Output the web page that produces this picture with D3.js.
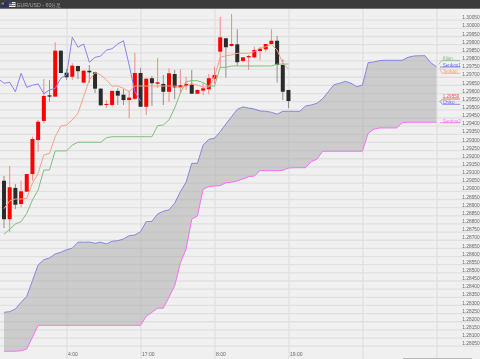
<!DOCTYPE html>
<html><head><meta charset="utf-8">
<script src="https://cdn.jsdelivr.net/npm/d3@7/dist/d3.min.js"></script>
<style>html,body{margin:0;padding:0;background:#f0f0f0;overflow:hidden}svg{display:block;filter:blur(0.3px)}text{font-family:"Liberation Sans",Arial,sans-serif}</style>
</head><body><svg id="c" width="480" height="359"></svg>
<script>
// Candles, index 0..50
const opens=[1.29062,1.28826,1.29018,1.28919,1.28995,1.29103,1.29312,1.29429,1.29586,1.29578,1.29860,1.29725,1.29700,1.29766,1.29664,1.29737,1.29727,1.29627,1.29527,1.29527,1.29613,1.29590,1.29557,1.29565,1.29723,1.29516,1.29691,1.29657,1.29656,1.29608,1.29717,1.29635,1.29643,1.29656,1.29596,1.29615,1.29623,1.29688,1.29854,1.29936,1.29889,1.29899,1.29797,1.29819,1.29819,1.29858,1.29868,1.29901,1.29921,1.29772,1.29619];
const highs=[1.29091,1.29153,1.29042,1.29062,1.29103,1.29332,1.29435,1.29686,1.29680,1.29911,1.29860,1.29748,1.29783,1.29768,1.29741,1.29772,1.29731,1.29629,1.29557,1.29615,1.29629,1.29625,1.29615,1.29846,1.29754,1.29692,1.29705,1.29815,1.29711,1.29752,1.29741,1.29746,1.29700,1.29741,1.29623,1.29660,1.29717,1.29762,1.30068,1.29938,1.30085,1.29991,1.29819,1.29834,1.29884,1.29884,1.29899,1.29991,1.29950,1.29807,1.29619];
const lows=[1.28772,1.28748,1.28889,1.28899,1.28995,1.29062,1.29240,1.29414,1.29547,1.29578,1.29720,1.29680,1.29680,1.29686,1.29664,1.29664,1.29600,1.29521,1.29508,1.29516,1.29527,1.29527,1.29445,1.29557,1.29515,1.29465,1.29521,1.29631,1.29527,1.29547,1.29562,1.29599,1.29619,1.29594,1.29594,1.29588,1.29592,1.29656,1.29758,1.29694,1.29884,1.29768,1.29789,1.29741,1.29813,1.29803,1.29854,1.29899,1.29664,1.29557,1.29507];
const closes=[1.28826,1.29022,1.28915,1.28997,1.29103,1.29318,1.29424,1.29582,1.29578,1.29860,1.29723,1.29697,1.29768,1.29734,1.29737,1.29727,1.29627,1.29525,1.29533,1.29613,1.29584,1.29557,1.29572,1.29723,1.29516,1.29688,1.29660,1.29666,1.29608,1.29721,1.29635,1.29648,1.29656,1.29596,1.29619,1.29629,1.29691,1.29711,1.29942,1.29881,1.29901,1.29789,1.29819,1.29827,1.29864,1.29872,1.29901,1.29921,1.29772,1.29608,1.29551];
// Indicators
const tenkan=[1.28891,1.28938,1.28950,1.28950,1.28954,1.29046,1.29108,1.29220,1.29230,1.29332,1.29398,1.29404,1.29435,1.29476,1.29578,1.29680,1.29725,1.29711,1.29680,1.29643,1.29643,1.29629,1.29608,1.29643,1.29643,1.29643,1.29643,1.29643,1.29643,1.29643,1.29643,1.29635,1.29643,1.29654,1.29649,1.29637,1.29637,1.29700,1.29819,1.29829,1.29834,1.29844,1.29844,1.29844,1.29854,1.29875,1.29884,1.29899,1.29864,1.29783,1.29748];
const kijun=[1.28734,1.28764,1.28797,1.28811,1.28862,1.28944,1.29005,1.29128,1.29128,1.29245,1.29245,1.29245,1.29281,1.29298,1.29298,1.29298,1.29298,1.29298,1.29326,1.29332,1.29332,1.29332,1.29332,1.29332,1.29332,1.29332,1.29332,1.29400,1.29404,1.29435,1.29508,1.29599,1.29670,1.29676,1.29676,1.29664,1.29643,1.29643,1.29758,1.29758,1.29766,1.29766,1.29766,1.29766,1.29766,1.29766,1.29766,1.29766,1.29777,1.29778,1.29778];
// Chikou runs from index -1 to 24
const chikouStart=-1;
const chikou=[1.29688,1.29660,1.29666,1.29608,1.29721,1.29635,1.29648,1.29656,1.29596,1.29619,1.29629,1.29691,1.29711,1.29942,1.29881,1.29901,1.29789,1.29819,1.29827,1.29864,1.29872,1.29901,1.29921,1.29772,1.29608,1.29551];
// Senkou spans, index 0..76
const senkou1=[1.28255,1.28259,1.28275,1.28316,1.28353,1.28449,1.28545,1.28578,1.28588,1.28613,1.28623,1.28639,1.28648,1.28685,1.28685,1.28686,1.28678,1.28685,1.28674,1.28691,1.28694,1.28705,1.28725,1.28729,1.28750,1.28811,1.28813,1.28858,1.28875,1.28883,1.28924,1.28995,1.29053,1.29169,1.29169,1.29281,1.29316,1.29323,1.29363,1.29410,1.29455,1.29500,1.29515,1.29508,1.29502,1.29490,1.29488,1.29482,1.29470,1.29488,1.29488,1.29488,1.29488,1.29521,1.29527,1.29537,1.29565,1.29608,1.29651,1.29660,1.29672,1.29660,1.29639,1.29649,1.29786,1.29791,1.29799,1.29801,1.29801,1.29801,1.29801,1.29819,1.29827,1.29829,1.29829,1.29786,1.29762];
const senkou2=[1.28016,1.28016,1.28016,1.28019,1.28030,1.28102,1.28175,1.28175,1.28175,1.28175,1.28175,1.28175,1.28175,1.28175,1.28175,1.28175,1.28175,1.28175,1.28175,1.28175,1.28175,1.28175,1.28175,1.28175,1.28175,1.28230,1.28255,1.28280,1.28280,1.28347,1.28418,1.28557,1.28643,1.28826,1.28846,1.29010,1.29026,1.29030,1.29032,1.29050,1.29053,1.29061,1.29073,1.29087,1.29091,1.29124,1.29124,1.29124,1.29124,1.29126,1.29140,1.29142,1.29142,1.29142,1.29179,1.29194,1.29243,1.29243,1.29243,1.29243,1.29243,1.29243,1.29243,1.29243,1.29353,1.29378,1.29386,1.29386,1.29386,1.29386,1.29418,1.29421,1.29421,1.29421,1.29421,1.29421,1.29421];
// Axis
const priceTicks=d3.range(0,41).map(k=>+(1.2805+k*0.0005).toFixed(4));
const gridBars=[11,24,37,50,63,76];
const timeLabels=["4:00","17:00","8:00","19:00","",""];
const title="EUR/USD - 60分足";
const lastPrice="1.29550";

const svg=d3.select("#c");
const W=480,H=359;
const x=d3.scaleLinear().domain([0,76]).range([4,436.4]);
const y=d3.scaleLinear().domain([1.2805,1.3005]).range([345.7,19.7]);
const C={bg:"#f0f0f0",grid:"#e0e0e0",up:"#ff0000",upWick:"#f08a8a",down:"#2b2b2b",downWick:"#8f8f8f",
  tenkan:"#f6a282",kijun:"#7fbf7f",chikou:"#8f80f0",s1:"#8686e2",s2:"#f472f0",axis:"#666"};
svg.append("rect").attr("width",W).attr("height",H).attr("fill",C.bg);

// Gridlines through axes
svg.append("g").attr("transform","translate(0,0)")
  .call(d3.axisRight(y).tickValues(priceTicks).tickSize(W).tickFormat(""))
  .call(g=>g.select(".domain").remove())
  .call(g=>g.selectAll("line").attr("stroke",C.grid).attr("stroke-width",1.3));
svg.append("g").attr("transform","translate(0,9)")
  .call(d3.axisBottom(x).tickValues(gridBars).tickSize(H-9).tickFormat(""))
  .call(g=>g.select(".domain").remove())
  .call(g=>g.selectAll("line").attr("stroke",C.grid).attr("stroke-width",1.3));

// Cloud
const idx=d3.range(senkou1.length);
svg.append("path").datum(idx)
  .attr("d",d3.area().x(i=>x(i)).y0(i=>y(senkou2[i])).y1(i=>y(senkou1[i])))
  .attr("fill","#a8a8a8").attr("fill-opacity",.5);

// Candles
const bars=d3.range(opens.length);
const cg=svg.append("g");
cg.selectAll("line").data(bars).join("line")
  .attr("x1",i=>x(i)).attr("x2",i=>x(i))
  .attr("y1",i=>y(highs[i])).attr("y2",i=>y(lows[i]))
  .attr("stroke",i=>closes[i]>=opens[i]?C.upWick:C.downWick).attr("stroke-width",1);
const bw=4;
cg.selectAll("rect").data(bars).join("rect")
  .attr("x",i=>x(i)-bw/2).attr("width",bw)
  .attr("y",i=>y(Math.max(opens[i],closes[i])))
  .attr("height",i=>Math.max(1,Math.abs(y(opens[i])-y(closes[i]))))
  .attr("fill",i=>closes[i]>=opens[i]?C.up:C.down);

// Lines
function drawLine(vals,col,start=0){
  svg.append("path").datum(vals)
    .attr("d",d3.line().x((d,i)=>x(i+start)).y(d=>y(d)))
    .attr("fill","none").attr("stroke",col).attr("stroke-width",1);
}
drawLine(senkou1,C.s1);
drawLine(senkou2,C.s2);
drawLine(kijun,C.kijun);
drawLine(tenkan,C.tenkan);
drawLine(chikou,C.chikou,chikouStart);

// Price axis labels
svg.append("g").attr("transform","translate(437.5,0)")
  .call(d3.axisRight(y).tickValues(priceTicks).tickSize(0).tickFormat(d3.format(".5f")))
  .call(g=>g.select(".domain").remove())
  .call(g=>g.selectAll("text").attr("x",42.2).attr("y",-2.4).attr("text-anchor","end").attr("fill",C.axis).attr("font-size",4.8).attr("font-family",null));

// Time axis labels
svg.append("g").attr("transform","translate(0,352.5)")
  .call(d3.axisBottom(x).tickValues(gridBars).tickSize(0).tickFormat((d,i)=>timeLabels[i]))
  .call(g=>g.select(".domain").remove())
  .call(g=>g.selectAll("text").attr("dx",1).attr("y",0).attr("text-anchor","start").attr("fill",C.axis).attr("font-size",5).attr("font-family",null));

// Line tags at the right
const tags=[
 {t:"Kijun",col:C.kijun,yt:58,yu:60.4,x0:441.7,from:[439,64.3]},
 {t:"Senkou1",col:"#6a6ae8",yt:65,yu:67,x0:440,from:null},
 {t:"Tenkan",col:C.tenkan,yt:71.3,yu:73.3,x0:441.7,from:[440,68.3]},
 {t:lastPrice,col:"#f05050",yt:96,yu:99,x0:442.5,from:[440,101.7]},
 {t:"Chiko",col:"#7a6af0",yt:102,yu:104.3,x0:442.5,from:[440,101.7]},
 {t:"Senkou2",col:C.s2,yt:121,yu:122.7,x0:440,from:null}];
const tg=svg.append("g");
tags.forEach(d=>{
  tg.append("line").attr("x1",d.x0).attr("x2",460).attr("y1",d.yu).attr("y2",d.yu).attr("stroke",d.col).attr("stroke-width",.8);
  if(d.from) tg.append("line").attr("x1",d.from[0]).attr("y1",d.from[1]).attr("x2",d.x0).attr("y2",d.yu).attr("stroke",d.col).attr("stroke-width",.7);
  tg.append("text").attr("x",442.7).attr("y",d.yt).attr("dy",".35em").attr("fill",d.col).attr("font-size",4.6).text(d.t);
});

// Title bar
svg.append("rect").attr("width",W).attr("height",8.7).attr("fill","#3b3b3b");
svg.append("rect").attr("x",1).attr("y",2).attr("width",6.5).attr("height",5).attr("fill","#26306e");
svg.append("rect").attr("x",1.5).attr("y",2.5).attr("width",2.5).attr("height",2).attr("fill","#b07a50");
svg.append("rect").attr("x",9).attr("y",2).attr("width",6.5).attr("height",5).attr("fill","#f2e8e8");
[3,5].forEach(v=>svg.append("rect").attr("x",9).attr("y",v).attr("width",6.5).attr("height",1).attr("fill","#d05050"));
svg.append("rect").attr("x",9).attr("y",2).attr("width",3).attr("height",2.5).attr("fill","#3a4f90");
svg.append("text").attr("x",17).attr("y",6.6).attr("fill","#a8a8a8").attr("font-size",5.3)
  .attr("font-family","'Liberation Sans','Noto Sans CJK JP',sans-serif").text(title);
// Scrollbar hint at the bottom edge
svg.append("rect").attr("x",403).attr("y",358).attr("width",69).attr("height",1).attr("fill","#b8b8b8");
</script></body></html>
